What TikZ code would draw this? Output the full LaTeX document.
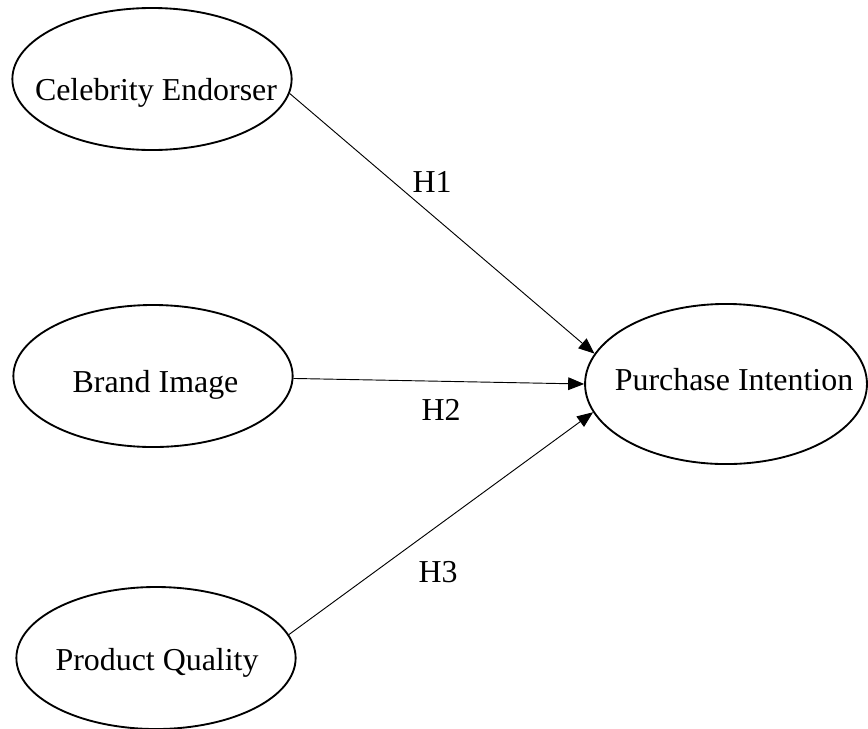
\documentclass[tikz,border=0pt]{standalone}
\usepackage{fontspec}
\setmainfont{Liberation Serif}
\usetikzlibrary{shapes.geometric,arrows.meta}

\begin{document}
\begin{tikzpicture}[x=0.376pt,y=-0.376pt,
    font=\fontsize{12}{14}\selectfont,
    latent/.style={draw,ellipse,line width=0.7pt,inner sep=0pt,minimum width=105pt,minimum height=53.4pt},
    varname/.style={anchor=base,inner sep=0pt},
    hyp/.style={anchor=base,inner sep=0pt},
    path/.style={line width=0.35pt,-{Triangle[length=6pt,width=4.8pt]}}]

    \useasboundingbox (0,0) rectangle (868,728);

    % Draw the ellipses
    \node[latent] (ce) at (152,79) {};
    \node[latent] (bi) at (153,376) {};
    \node[latent] (pq) at (156,658) {};
    \node[latent,minimum width=106pt,minimum height=60.2pt] (pi) at (726,384) {};

    % Names of the variables
    \node[varname] (cet) at (156,100) {Celebrity Endorser};
    \node[varname] (bit) at (155.5,392) {Brand Image};
    \node[varname] (pqt) at (157,670) {Product Quality};
    \node[varname] (pit) at (734,390) {Purchase Intention};

    % Hypotheses
    \draw[path] (ce.-6) -- (pi.167);
    \draw[path] (bi.-1) -- (pi.west);
    \draw[path] (pq.10) -- (pi.192);

    \node[hyp] (h1) at (432,192) {H1};
    \node[hyp] (h2) at (441,420) {H2};
    \node[hyp] (h3) at (438,582) {H3};

\end{tikzpicture}
\end{document}
